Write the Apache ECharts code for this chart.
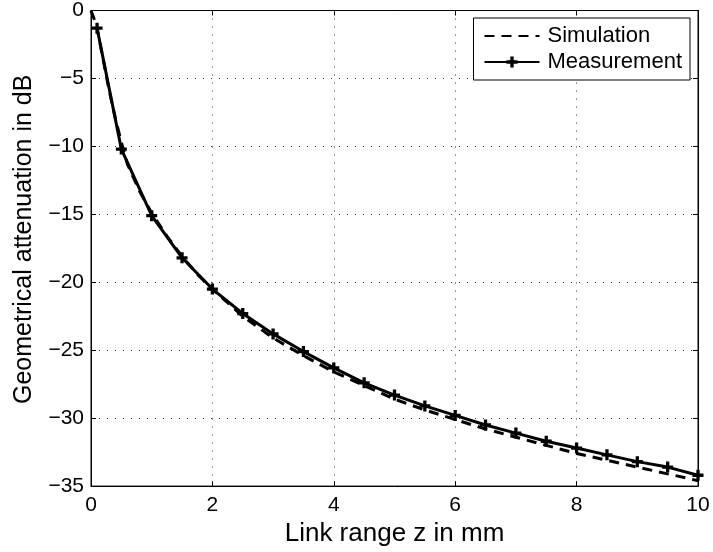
<!DOCTYPE html>
<html>
<head>
<meta charset="utf-8">
<script src="https://cdn.jsdelivr.net/npm/echarts@6/dist/echarts.min.js"></script>
<style>html,body{margin:0;padding:0;background:#fff;}#c{width:713px;height:552px;}</style>
</head>
<body>
<div id="c"></div>
<script>
// Data
const simX = [0, 0.05, 0.1, 0.2, 0.3, 0.4, 0.5, 0.6, 0.8, 1, 1.25, 1.5, 1.75, 2, 2.5, 3, 3.5, 4, 4.5, 5, 5.5, 6, 6.5, 7, 7.5, 8, 8.5, 9, 9.5, 10];
const simY = [0, -0.6, -1.3, -3.6, -5.9, -7.9, -9.7, -11.3, -13.3, -14.9, -16.6, -18.1, -19.4, -20.5, -22.5, -24.1, -25.4, -26.6, -27.6, -28.6, -29.4, -30.1, -30.8, -31.4, -32.0, -32.6, -33.1, -33.6, -34.1, -34.6];
const measX = [0.1, 0.5, 1, 1.5, 2, 2.5, 3, 3.5, 4, 4.5, 5, 5.5, 6, 6.5, 7, 7.5, 8, 8.5, 9, 9.5, 10];
const measY = [-1.3, -10.2, -15.1, -18.2, -20.5, -22.3, -23.8, -25.1, -26.3, -27.4, -28.3, -29.1, -29.8, -30.5, -31.1, -31.7, -32.2, -32.7, -33.2, -33.6, -34.2];
const xTicks = [0, 2, 4, 6, 8, 10];
const yTicks = [0, -5, -10, -15, -20, -25, -30, -35];
const seriesNames = ['Simulation', 'Measurement'];
const xTitle = 'Link range z in mm';
const yTitle = 'Geometrical attenuation in dB';

const FONT = "'Liberation Sans', Arial, sans-serif";
const plus = 'path://M-1.5,-5H1.5V-1.5H5V1.5H1.5V5H-1.5V1.5H-5V-1.5H-1.5Z';
const fmt = v => String(v).replace('-', '\u2212');

const chart = echarts.init(document.getElementById('c'), null, {renderer: 'canvas'});
const gridLine = {show: true, lineStyle: {color: '#333', width: 1, type: [1, 7]}};
chart.setOption({
  animation: false,
  backgroundColor: '#fff',
  grid: {left: 91, right: 15, top: 9, bottom: 65, show: true, borderColor: '#000', borderWidth: 1, backgroundColor: 'transparent'},
  legend: {
    right: 23, top: 18,
    orient: 'vertical',
    backgroundColor: '#fff', borderColor: '#000', borderWidth: 1,
    padding: [7, 8, 7, 10],
    itemGap: 4,
    itemWidth: 55, itemHeight: 14,
    textStyle: {fontFamily: FONT, fontSize: 22, color: '#000', padding: [0, 0, 0, 3]},
    data: [{name: seriesNames[0], itemStyle: {opacity: 0}}, {name: seriesNames[1]}]
  },
  xAxis: [{
    type: 'value', min: 0, max: 10, interval: 2,
    name: xTitle, nameLocation: 'middle', nameGap: 34,
    nameTextStyle: {fontFamily: FONT, fontSize: 26, color: '#000'},
    axisLine: {show: true, onZero: false, lineStyle: {color: '#000'}},
    axisTick: {show: true, inside: true, length: 5, lineStyle: {color: '#000'}},
    axisLabel: {fontFamily: FONT, fontSize: 21, color: '#000', margin: 9, formatter: fmt},
    splitLine: gridLine
  }, {
    type: 'value', min: 0, max: 10, interval: 2, position: 'top',
    axisLine: {show: true, onZero: false, lineStyle: {color: '#000'}},
    axisTick: {show: true, inside: true, length: 5, lineStyle: {color: '#000'}},
    axisLabel: {show: false}, splitLine: {show: false}
  }],
  yAxis: [{
    type: 'value', min: -35, max: 0, interval: 5,
    name: yTitle, nameLocation: 'middle', nameGap: 54,
    nameTextStyle: {fontFamily: FONT, fontSize: 25, color: '#000', padding: [0, 0, 0, 18]},
    axisLine: {show: true, onZero: false, lineStyle: {color: '#000'}},
    axisTick: {show: true, inside: true, length: 5, lineStyle: {color: '#000'}},
    axisLabel: {fontFamily: FONT, fontSize: 21, color: '#000', margin: 7, formatter: fmt},
    splitLine: gridLine
  }, {
    type: 'value', min: -35, max: 0, interval: 5, position: 'right',
    axisLine: {show: true, onZero: false, lineStyle: {color: '#000'}},
    axisTick: {show: true, inside: true, length: 5, lineStyle: {color: '#000'}},
    axisLabel: {show: false}, splitLine: {show: false}
  }],
  series: [{
    name: seriesNames[0], type: 'line',
    data: simX.map((x, i) => [x, simY[i]]),
    showSymbol: false, symbol: 'none', smooth: false,
    lineStyle: {color: '#000', width: 3, type: [10, 7]},
    itemStyle: {color: '#000'}, z: 3
  }, {
    name: seriesNames[1], type: 'line',
    data: measX.map((x, i) => [x, measY[i]]),
    symbol: plus, symbolSize: 11, showSymbol: true,
    lineStyle: {color: '#000', width: 3},
    itemStyle: {color: '#000'}, z: 4
  }]
});
</script>
</body>
</html>
